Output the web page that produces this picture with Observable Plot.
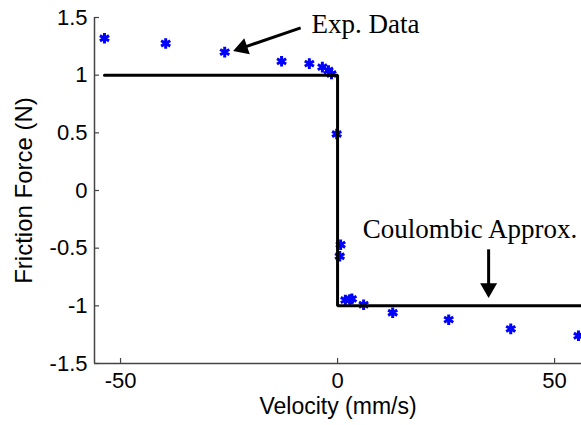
<!DOCTYPE html>
<html><head><meta charset="utf-8">
<script src="https://cdn.jsdelivr.net/npm/d3@7"></script>
<script src="https://cdn.jsdelivr.net/npm/@observablehq/plot@0.6"></script>
<style>body{margin:0;background:#fff}</style>
</head><body><div id="chart"></div>
<script>
// Experimental data (velocity mm/s, friction force N)
const velocity = [-53.7, -39.6, -26.0, -12.9, -6.5, -3.5, -2.1, -1.4, -0.2, 0.7, 0.5, 1.8, 2.8, 3.3, 6.0, 12.7, 25.6, 39.9, 55.5];
const force    = [1.32, 1.275, 1.20, 1.12, 1.10, 1.07, 1.04, 1.01, 0.49, -0.47, -0.57, -0.95, -0.945, -0.94, -0.99, -1.06, -1.12, -1.20, -1.26];
// Coulombic approximation
const coulombVelocity = [-53.7, 0, 0, 56.2];
const coulombForce    = [1, 1, -1, -1];
// Ticks
const xTicks = [-50, 0, 50];
const yTicks = [-1.5, -1, -0.5, 0, 0.5, 1, 1.5];
// Annotations
const noteText = ["Exp. Data", "Coulombic Approx."];
const noteX = [-6.0, 5.8];
const noteY = [1.362, -0.416];
const arrowX1 = [-8.5, 34.8];
const arrowY1 = [1.41, -0.51];
const arrowX2 = [-24.0, 34.8];
const arrowY2 = [1.21, -0.93];

const W = 581, H = 425, mL = 94, mR = 0, mT = 17, mB = 62;
const xDomain = [-56, 56.2], yDomain = [-1.5, 1.5];
const xs = Plot.scale({x: {domain: xDomain, range: [mL, W - mR]}});
const ys = Plot.scale({y: {domain: yDomain, range: [H - mB, mT]}});

const points = velocity.map((v, i) => ({v, f: force[i]}));
const coulomb = coulombVelocity.map((v, i) => ({v, f: coulombForce[i]}));
const notes = noteText.map((t, i) => ({t, x: noteX[i], y: noteY[i]}));
const headBack = 9.5;
const arrows = arrowX1.map((x1, i) => {
  const px1 = xs.apply(x1), py1 = ys.apply(arrowY1[i]);
  const px2 = xs.apply(arrowX2[i]), py2 = ys.apply(arrowY2[i]);
  const a = Math.atan2(py2 - py1, px2 - px1);
  const cx = px2 - headBack * Math.cos(a), cy = py2 - headBack * Math.sin(a);
  return {x1, y1: arrowY1[i], x2: xs.invert(cx), y2: ys.invert(cy), rotate: a * 180 / Math.PI + 90};
});

const axisColor = "#444";
const sans = "Liberation Sans, Arial, Helvetica, sans-serif";
const serif = "Liberation Serif, Times New Roman, serif";

const chart = Plot.plot({
  width: W, height: H,
  marginLeft: mL, marginRight: mR, marginTop: mT, marginBottom: mB,
  style: {background: "#fff", overflow: "visible", fontFamily: sans},
  x: {domain: xDomain},
  y: {domain: yDomain},
  marks: [
    Plot.ruleX([xDomain[0]], {stroke: axisColor, strokeWidth: 1.5}),
    Plot.ruleY([yDomain[0]], {stroke: axisColor, strokeWidth: 1.5}),
    Plot.ruleX(xTicks, {y1: yDomain[0], y2: yDomain[0], insetBottom: 5, stroke: axisColor, strokeWidth: 1.2}),
    Plot.ruleY(yTicks, {x1: xDomain[0], x2: xDomain[0], insetRight: -5, stroke: axisColor, strokeWidth: 1.2}),
    Plot.axisX({ticks: xTicks, tickSize: 0, tickPadding: 9, tickFormat: d => String(d), fontSize: 22, fontFamily: sans, label: null}),
    Plot.axisY({ticks: yTicks, tickSize: 0, tickPadding: 7, tickFormat: d => String(d), fontSize: 22, fontFamily: sans, label: null}),
    Plot.text(["Velocity (mm/s)"], {frameAnchor: "bottom", dy: 50, text: d => d, textAnchor: "middle", fontSize: 23, fontFamily: sans, fill: "black"}),
    Plot.text(["Friction Force (N)"], {frameAnchor: "left", dx: -70, rotate: -90, textAnchor: "middle", text: d => d, fontSize: 24, fontFamily: sans, fill: "black"}),
    Plot.dot(points, {x: "v", y: "f", symbol: "asterisk", r: 5, stroke: "#0000ff", strokeWidth: 3}),
    Plot.line(coulomb, {x: "v", y: "f", stroke: "black", strokeWidth: 3, strokeLinejoin: "miter", curve: "linear"}),
    Plot.text(notes, {x: "x", y: "y", text: "t", textAnchor: "start", lineAnchor: "bottom", fontSize: 27, fontFamily: serif, fill: "black"}),
    Plot.link(arrows, {x1: "x1", y1: "y1", x2: "x2", y2: "y2", stroke: "black", strokeWidth: 3}),
    Plot.dot(arrows, {x: "x2", y: "y2", symbol: "triangle", r: 6.3, fill: "black", stroke: null, rotate: "rotate"})
  ]
});
document.getElementById("chart").appendChild(chart);
</script>
</body></html>
